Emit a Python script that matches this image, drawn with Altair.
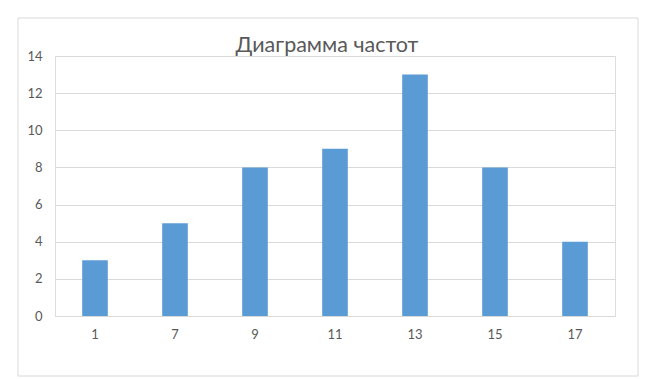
import altair as alt
import pandas as pd

# Frequency table: value bins and counts
bins = ["1", "7", "9", "11", "13", "15", "17"]
counts = [3, 5, 8, 9, 13, 8, 4]
y_ticks = [0, 2, 4, 6, 8, 10, 12, 14]
title_text = "Диаграмма частот"

df = pd.DataFrame({"bin": bins, "count": counts})

FONT = "Lato"
TEXT = "#595959"
GRID = "#d9d9d9"

bars = alt.Chart(df).mark_bar(color="#5b9bd5").encode(
    x=alt.X(
        "bin:N",
        sort=bins,
        scale=alt.Scale(paddingInner=0.68, paddingOuter=0.34),
        axis=alt.Axis(
            title=None, labelAngle=0, domain=True, domainColor=GRID, ticks=False,
            labelPadding=12, labelFont=FONT, labelFontSize=13, labelColor=TEXT,
        ),
    ),
    y=alt.Y(
        "count:Q",
        scale=alt.Scale(domain=[0, 14], nice=False),
        axis=alt.Axis(
            title=None, values=y_ticks, domain=False, ticks=False, grid=True,
            gridColor=GRID, labelPadding=13, labelFont=FONT, labelFontSize=13,
            labelColor=TEXT,
        ),
    ),
)

base = alt.Chart(pd.DataFrame({"t": [title_text]}))

# Outer chart frame
frame = base.mark_rect(fill=None, stroke=GRID, strokeWidth=1).encode(
    x=alt.value(-37), x2=alt.value(583), y=alt.value(-38), y2=alt.value(320)
)

# Chart title, centred over the frame
title = base.mark_text(
    font=FONT, fontSize=21.5, color=TEXT, align="center", baseline="middle"
).encode(text="t:N", x=alt.value(272), y=alt.value(-10))

chart = alt.layer(frame, bars, title).properties(
    width=560,
    height=260,
    autosize=alt.AutoSizeParams(type="none"),
    padding={"left": 55, "top": 56, "right": 50, "bottom": 63},
).configure_view(stroke=None).configure(background="white")

chart.save("out.html", embed_options={"renderer": "svg", "actions": False})
